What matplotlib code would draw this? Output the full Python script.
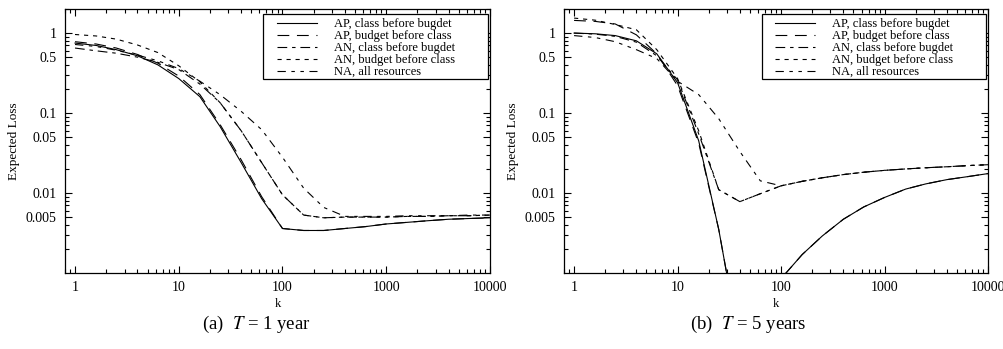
import matplotlib
matplotlib.use("Agg")
import matplotlib.pyplot as plt
from matplotlib.patches import Rectangle
from matplotlib.ticker import FixedLocator, FixedFormatter, LogLocator, NullFormatter

plt.rcParams["font.family"] = "Liberation Serif"
plt.rcParams["mathtext.fontset"] = "stix"
plt.rcParams["lines.scale_dashes"] = False

k = [1, 1.6, 2.5, 4, 6.3, 10, 16, 25, 40, 63, 100, 160, 250, 400, 630,
     1000, 1600, 2500, 4000, 6300, 10000]

labels = ["AP, class before bugdet", "AP, budget before class",
          "AN, class before bugdet", "AN, budget before class",
          "NA, all resources"]

# T = 1 year
t1_ap_class = [0.75, 0.70, 0.62, 0.52, 0.40, 0.27, 0.16, 0.068, 0.024, 0.0085, 0.0036,
               0.0034, 0.0034, 0.0036, 0.0038, 0.0041, 0.0043, 0.0045, 0.0047, 0.0048, 0.0049]
t1_ap_budget = [0.78, 0.73, 0.65, 0.54, 0.42, 0.29, 0.17, 0.072, 0.026, 0.009, 0.0036,
                0.0034, 0.0034, 0.0036, 0.0038, 0.0041, 0.0043, 0.0045, 0.0047, 0.0048, 0.0049]
t1_an_class = [0.65, 0.60, 0.56, 0.50, 0.43, 0.35, 0.23, 0.135, 0.060, 0.024, 0.0095,
               0.0053, 0.0049, 0.0050, 0.0050, 0.0050, 0.0051, 0.0051, 0.0052, 0.0052, 0.0053]
t1_an_budget = [0.96, 0.92, 0.84, 0.71, 0.57, 0.39, 0.245, 0.135, 0.060, 0.024, 0.0095,
                0.0053, 0.0049, 0.0050, 0.0050, 0.0050, 0.0051, 0.0051, 0.0052, 0.0052, 0.0053]
t1_na = [0.72, 0.68, 0.61, 0.53, 0.45, 0.36, 0.25, 0.17, 0.105, 0.062, 0.028,
         0.0115, 0.0066, 0.0051, 0.0051, 0.0051, 0.0052, 0.0052, 0.0052, 0.0053, 0.0053]

# T = 5 years
t5_ap_class = [1.0, 0.98, 0.93, 0.80, 0.55, 0.24, 0.045, 0.0035, 0.00012, 0.0002, 0.00085,
               0.0017, 0.0029, 0.0047, 0.0067, 0.0088, 0.0112, 0.013, 0.0147, 0.016, 0.0175]
t5_ap_budget = [1.44, 1.40, 1.30, 0.95, 0.55, 0.22, 0.042, 0.0035, 0.00012, 0.0002, 0.00085,
                0.0017, 0.0029, 0.0047, 0.0067, 0.0088, 0.0112, 0.013, 0.0147, 0.016, 0.0175]
t5_an_class = [1.0, 0.97, 0.91, 0.77, 0.52, 0.26, 0.055, 0.011, 0.0078, 0.0098, 0.0123,
               0.0140, 0.0155, 0.0170, 0.0182, 0.0192, 0.0200, 0.0207, 0.0213, 0.0220, 0.0226]
t5_an_budget = [1.54, 1.45, 1.28, 1.10, 0.62, 0.27, 0.06, 0.011, 0.0078, 0.0098, 0.0123,
                0.0140, 0.0155, 0.0170, 0.0182, 0.0192, 0.0200, 0.0207, 0.0213, 0.0220, 0.0226]
t5_na = [0.93, 0.88, 0.78, 0.62, 0.48, 0.25, 0.17, 0.085, 0.033, 0.0142, 0.0123,
         0.0140, 0.0155, 0.0170, 0.0182, 0.0192, 0.0200, 0.0207, 0.0213, 0.0220, 0.0226]

ytick_vals = [1, 0.5, 0.1, 0.05, 0.01, 0.005]
ytick_text = ["1", "0.5", "0.1", "0.05", "0.01", "0.005"]
xtick_vals = [1, 10, 100, 1000, 10000]
xtick_text = ["1", "10", "100", "1000", "10000"]

styles = [(), (8.5, 5.5), (7, 3.5, 2.5, 3.5), (3, 3.5), (6, 4, 2.5, 4, 2.5, 4)]

fig = plt.figure(figsize=(10.04, 3.49), dpi=100)
ax1 = fig.add_axes([0.0647, 0.2178, 0.4233, 0.7564])
ax2 = fig.add_axes([0.5618, 0.2178, 0.4223, 0.7564])


def draw_panel(ax, series):
    for ys, dash, lab in zip(series, styles, labels):
        line, = ax.plot(k, ys, color="black", lw=0.8, label=lab)
        if dash:
            line.set_dashes(dash)
    ax.set_xscale("log")
    ax.set_yscale("log")
    ax.set_xlim(0.8, 10000)
    ax.set_ylim(0.001, 2)
    ax.xaxis.set_major_locator(FixedLocator(xtick_vals))
    ax.xaxis.set_major_formatter(FixedFormatter(xtick_text))
    ax.xaxis.set_minor_locator(LogLocator(base=10, subs=range(2, 10)))
    ax.xaxis.set_minor_formatter(NullFormatter())
    ax.yaxis.set_major_locator(FixedLocator(ytick_vals))
    ax.yaxis.set_major_formatter(FixedFormatter(ytick_text))
    ax.yaxis.set_minor_locator(LogLocator(base=10, subs=range(2, 10)))
    ax.yaxis.set_minor_formatter(NullFormatter())
    ax.tick_params(which="both", direction="in", top=True, right=True,
                   labelsize=10, width=0.8)
    ax.tick_params(which="major", length=5, pad=6)
    ax.tick_params(which="minor", length=3)
    for sp in ax.spines.values():
        sp.set_linewidth(0.9)
    ax.set_xlabel("k", fontsize=9, labelpad=3)
    ax.set_ylabel("Expected Loss", fontsize=9.5, labelpad=4)
    # key box drawn by hand, gnuplot style (wide right margin)
    ax.add_patch(Rectangle((0.466, 0.735), 0.529, 0.246, transform=ax.transAxes,
                           fill=True, facecolor="white", edgecolor="black",
                           lw=0.9, zorder=4))
    leg = ax.legend(loc="upper left", bbox_to_anchor=(0.498, 0.966), fontsize=9,
                    frameon=False, handlelength=3.2, handletextpad=1.36,
                    labelspacing=0.0, borderpad=0, borderaxespad=0)
    leg.set_zorder(5)


draw_panel(ax1, [t1_ap_class, t1_ap_budget, t1_an_class, t1_an_budget, t1_na])
draw_panel(ax2, [t5_ap_class, t5_ap_budget, t5_an_class, t5_an_budget, t5_na])

fig.text(0.255, 0.071, "(a)  $T$ = 1 year", ha="center", va="center", fontsize=13.5)
fig.text(0.745, 0.071, "(b)  $T$ = 5 years", ha="center", va="center", fontsize=13.5)

fig.savefig("out.png", dpi=100)
